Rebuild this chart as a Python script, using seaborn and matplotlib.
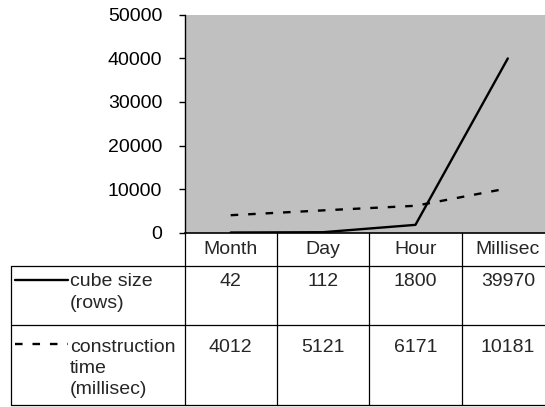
import pandas as pd
import matplotlib.pyplot as plt
import matplotlib.transforms as mtransforms
import seaborn as sns

# chart data
categories = ['Month', 'Day', 'Hour', 'Millisec']
cube_size = [42, 112, 1800, 39970]
construction_time = [4012, 5121, 6171, 10181]
series_labels = [['cube size', '(rows)'], ['construction', 'time', '(millisec)']]
y_ticks = [0, 10000, 20000, 30000, 40000, 50000]

sns.set_theme(style='white')
plt.rcParams['font.family'] = ['Liberation Sans', 'DejaVu Sans']
FS = 14

W, H = 545, 407
fig = plt.figure(figsize=(W / 100, H / 100), dpi=100)

def fy(py):
    # pixel row -> figure fraction
    return 1 - py / H

# plot area (extends past the right edge like the original)
ax = fig.add_axes([184.5 / W, fy(232.7), 369.5 / W, (232.7 - 14.7) / H])
ax.set_facecolor('#C0C0C0')

df = pd.DataFrame({'x': range(len(categories)), 'cube': cube_size, 'time': construction_time})
sns.lineplot(data=df, x='x', y='cube', ax=ax, color='black', lw=1.7)
sns.lineplot(data=df, x='x', y='time', ax=ax, color='black', lw=1.7,
             dashes=False, linestyle=(0, (3.2, 4.2)))

ax.set_xlim(-0.5, len(categories) - 0.5)
ax.set_ylim(0, 50000)
ax.set_yticks(y_ticks)
ax.set_yticklabels([str(t) for t in y_ticks], fontsize=FS)
ax.set_xticks([])
ax.set_xlabel('')
ax.set_ylabel('')
ax.tick_params(axis='y', which='both', left=True, length=4, width=1, pad=12, colors='black')
for s in ['top', 'right']:
    ax.spines[s].set_visible(False)
ax.spines['left'].set_color('black')
ax.spines['bottom'].set_color('black')
ax.spines['left'].set_linewidth(1)
ax.spines['bottom'].set_linewidth(1.2)

# data table below the plot
tr = mtransforms.blended_transform_factory(ax.transData, fig.transFigure)
ftr = fig.transFigure

for i in range(len(categories) + 1):
    ax.plot([i - 0.5, i - 0.5], [fy(232.7), fy(405)], transform=tr, color='black',
            lw=0.9, clip_on=False)
for py in [266, 325, 405]:
    fig.add_artist(plt.Line2D([10.5 / W, 1], [fy(py), fy(py)], transform=ftr,
                              color='black', lw=0.9))
fig.add_artist(plt.Line2D([10.5 / W, 10.5 / W], [fy(266), fy(405)], transform=ftr,
                          color='black', lw=0.9))

for i, c in enumerate(categories):
    ax.text(i, fy(249), c, transform=tr, ha='center', va='center', fontsize=FS)
    ax.text(i, fy(282), str(cube_size[i]), transform=tr, ha='center', va='center', fontsize=FS)
    ax.text(i, fy(347), str(construction_time[i]), transform=tr, ha='center', va='center',
            fontsize=FS)

# legend keys inside the table
fig.add_artist(plt.Line2D([15 / W, 68 / W], [fy(280), fy(280)], transform=ftr,
                          color='black', lw=1.7))
fig.add_artist(plt.Line2D([15 / W, 68 / W], [fy(344), fy(344)], transform=ftr,
                          color='black', lw=1.7, linestyle=(0, (3.2, 4.2))))
row_tops = [282, 347]
for lines, top in zip(series_labels, row_tops):
    for k, txt in enumerate(lines):
        fig.text(70 / W, fy(top + 21.5 * k), txt, ha='left', va='center', fontsize=FS)

fig.savefig('out.png', dpi=100)
